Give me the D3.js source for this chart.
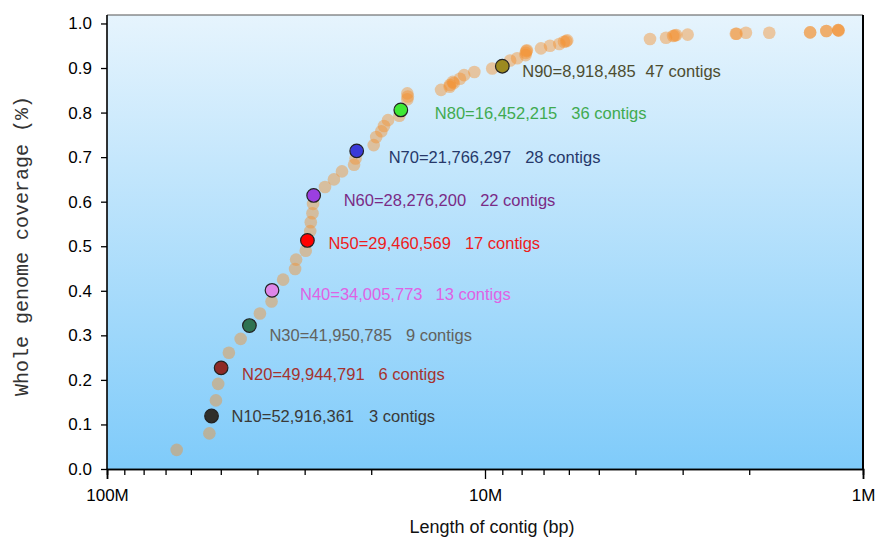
<!DOCTYPE html>
<html>
<head>
<meta charset="utf-8">
<script src="https://cdn.jsdelivr.net/npm/d3@7"></script>
<style>
  html, body { margin: 0; padding: 0; background: #fff; }
  svg { display: block; }
  text { font-family: "Liberation Sans", Arial, sans-serif; }
</style>
</head>
<body>
<svg id="chart" width="877" height="542"></svg>
<script>
// contig length (Mb) vs cumulative genome coverage
var contigLen = [65.4, 53.6, 52.9, 51.5, 50.8, 49.9, 47.6, 44.3, 42.0, 39.4, 36.7, 36.6,
  34.2, 31.8, 31.6, 29.8, 29.5, 29.0, 28.9, 28.6, 28.5, 28.4, 26.5, 25.1, 23.9, 22.2,
  22.0, 21.85, 19.7, 19.4, 18.8, 18.5, 18.05, 16.85, 16.7, 16.05, 16.05, 16.0, 13.07,
  12.38, 12.4, 12.17, 12.1, 11.65, 11.36, 10.67, 9.57, 9.0, 8.58, 8.22, 7.81, 7.8, 7.77,
  7.75, 7.11, 6.73, 6.36, 6.18, 6.1, 6.06, 3.66, 3.32, 3.18, 3.15, 3.12, 2.91, 2.17, 2.16,
  2.04, 1.77, 1.38, 1.38, 1.25, 1.25, 1.163, 1.163, 1.16];
var coverage = [0.043, 0.080, 0.119, 0.154, 0.191, 0.227, 0.261, 0.292, 0.322, 0.349, 0.376, 0.401,
  0.425, 0.449, 0.470, 0.490, 0.513, 0.534, 0.554, 0.574, 0.595, 0.614, 0.633, 0.650, 0.668, 0.683,
  0.697, 0.714, 0.727, 0.745, 0.758, 0.770, 0.783, 0.793, 0.806, 0.830, 0.843, 0.836, 0.851,
  0.862, 0.858, 0.869, 0.866, 0.876, 0.884, 0.891, 0.899, 0.904, 0.917, 0.922, 0.929, 0.934, 0.938,
  0.940, 0.944, 0.950, 0.954, 0.959, 0.960, 0.962, 0.965, 0.968, 0.972, 0.973, 0.974, 0.975, 0.977, 0.977,
  0.979, 0.979, 0.980, 0.980, 0.983, 0.983, 0.985, 0.985, 0.984];

// Nx markers
var nNames = ['N10', 'N20', 'N30', 'N40', 'N50', 'N60', 'N70', 'N80', 'N90'];
var nValues = [52916361, 49944791, 41950785, 34005773, 29460569, 28276200, 21766297, 16452215, 8918485];
var nContigs = [3, 6, 9, 13, 17, 22, 28, 36, 47];
var nMarkLen = [52.9, 49.9, 42.0, 36.6, 29.5, 28.4, 21.85, 16.7, 9.0];
var nMarkCov = [0.119, 0.227, 0.322, 0.401, 0.513, 0.614, 0.714, 0.806, 0.904];
var nFill = ['#2f2f2b', '#8e2a26', '#2f7352', '#de86e8', '#ff0000', '#9b3fe0', '#3a3ad8', '#3ee834', '#9c8a1f'];
var nText = ['#3a3a38', '#a5322e', '#62625e', '#df62e4', '#ee1c1c', '#7a2b86', '#26386a', '#3faa50', '#4d4d30'];

var xTickVals = [1e8, 1e7, 1e6];
var xTickText = ['100M', '10M', '1M'];
var yTickVals = [0, 0.1, 0.2, 0.3, 0.4, 0.5, 0.6, 0.7, 0.8, 0.9, 1.0];

// label nudges relative to marker (layout only)
var labelShift = [[20, 0], [21, 6], [20, 10], [28, 4], [21, 3], [30, 5], [32, 6], [34, 3], [20, 5]];
var labelGap = [15, 14, 14, 13, 14, 14, 14, 14, 10];

var svg = d3.select('#chart');
var L = 107, R = 863, T = 15, B = 469;

var x = d3.scaleLog().domain([1e8, 1e6]).range([L, R]);
var y = d3.scaleLinear().domain([0, 1.019]).range([B, T]);

var grad = svg.append('defs').append('linearGradient')
  .attr('id', 'bg').attr('x1', 0).attr('y1', 0).attr('x2', 0).attr('y2', 1);
grad.append('stop').attr('offset', '0%').attr('stop-color', '#e6f4fd');
grad.append('stop').attr('offset', '100%').attr('stop-color', '#7fcbfa');

svg.append('rect').attr('x', L).attr('y', T).attr('width', R - L).attr('height', B - T)
  .attr('fill', 'url(#bg)');

// frame top / right
svg.append('line').attr('x1', L).attr('x2', R).attr('y1', T).attr('y2', T)
  .attr('stroke', '#555').attr('stroke-width', 1.2);
svg.append('line').attr('x1', R).attr('x2', R).attr('y1', T).attr('y2', B)
  .attr('stroke', '#000').attr('stroke-width', 2);

// x axis
var minor = [];
[1e6, 1e7].forEach(function(d) { for (var k = 2; k <= 9; k++) minor.push(d * k); });
var xg = svg.append('g').attr('transform', 'translate(0,' + B + ')');
xg.call(d3.axisBottom(x).tickValues(minor).tickSize(6).tickFormat(''));
xg.append('g').call(d3.axisBottom(x).tickValues(xTickVals).tickSize(10).tickPadding(10)
  .tickFormat(function(d, i) { return xTickText[i]; }));
xg.selectAll('.domain').attr('stroke', '#000').attr('stroke-width', 1.6);
xg.selectAll('.tick line').attr('stroke', '#000').attr('stroke-width', 1.3);
xg.selectAll('text').attr('fill', '#000').style('font-size', '17px')
  .style('font-family', '"Liberation Sans", Arial, sans-serif');

// y axis
var yg = svg.append('g').attr('transform', 'translate(' + L + ',0)');
yg.call(d3.axisLeft(y).tickValues(yTickVals).tickSize(6).tickPadding(9).tickFormat(d3.format('.1f')));
yg.select('.domain').attr('d', 'M0,' + T + 'V' + B).attr('stroke', '#000').attr('stroke-width', 1.6);
yg.selectAll('.tick line').attr('stroke', '#000').attr('stroke-width', 1.3);
yg.selectAll('text').attr('fill', '#000').style('font-size', '17px')
  .style('font-family', '"Liberation Sans", Arial, sans-serif');

// titles
svg.append('text').attr('x', (L + R) / 2 + 7).attr('y', 533).attr('text-anchor', 'middle')
  .style('font-size', '18px').attr('fill', '#111').text('Length of contig (bp)');
svg.append('text').attr('transform', 'translate(28,' + 246 + ') rotate(-90)')
  .attr('text-anchor', 'middle')
  .style('font-family', '"Liberation Mono", "Courier New", monospace')
  .style('font-size', '20px').attr('fill', '#333').text('Whole genome coverage (%)');

// contig points
svg.append('g').selectAll('circle').data(contigLen).join('circle')
  .attr('cx', function(d) { return x(d * 1e6); })
  .attr('cy', function(d, i) { return y(coverage[i]); })
  .attr('r', 6.3)
  .attr('fill', '#f5902f').attr('fill-opacity', 0.45);

// Nx markers and labels
var fmt = d3.format(',');
var mk = svg.append('g');
nNames.forEach(function(name, i) {
  var cx = x(nMarkLen[i] * 1e6), cy = y(nMarkCov[i]);
  mk.append('circle').attr('cx', cx).attr('cy', cy).attr('r', 6.8)
    .attr('fill', nFill[i]).attr('stroke', '#222').attr('stroke-width', 1.2);
  var t = mk.append('text').attr('x', cx + labelShift[i][0]).attr('y', cy + labelShift[i][1])
    .attr('dy', '0.36em').style('font-size', '16.5px').attr('fill', nText[i]);
  t.append('tspan').text(name + '=' + fmt(nValues[i]));
  t.append('tspan').attr('dx', labelGap[i]).text(nContigs[i] + ' contigs');
});
</script>
</body>
</html>
